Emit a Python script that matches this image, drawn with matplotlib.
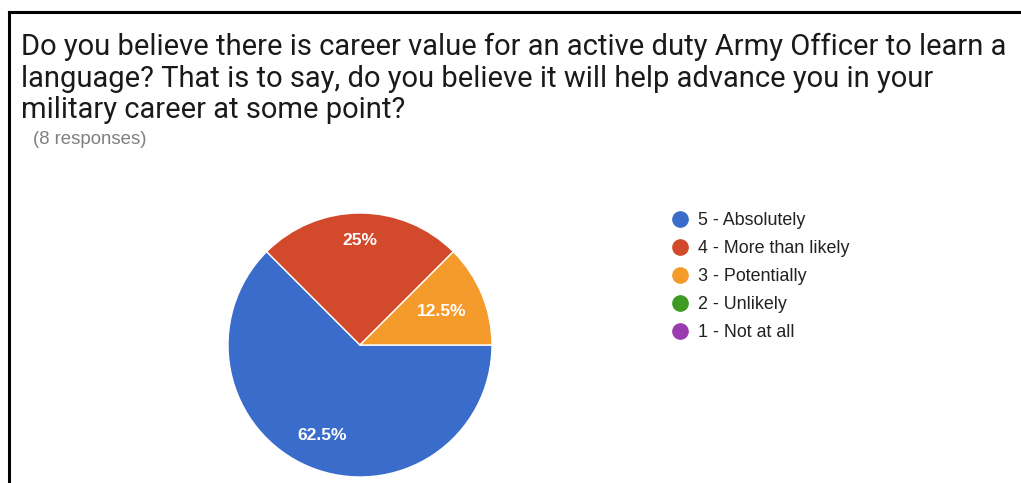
import matplotlib.pyplot as plt
from matplotlib.lines import Line2D
import numpy as np

# Survey answers (8 responses)
answers = ['5 - Absolutely', '4 - More than likely', '3 - Potentially',
           '2 - Unlikely', '1 - Not at all']
shares = [62.5, 25.0, 12.5, 0.0, 0.0]
colors = ['#3a6ccb', '#d3492b', '#f49b2c', '#3d9a22', '#9a3cb0']

question = ("Do you believe there is career value for an active duty Army Officer to learn a\n"
            "language? That is to say, do you believe it will help advance you in your\n"
            "military career at some point?")
n_responses = 8

W, H = 1021, 483
fig = plt.figure(figsize=(W / 100, H / 100), dpi=100)
fig.patch.set_facecolor('white')

# frame lines (left + top)
fig.add_artist(Line2D([8.5 / W, 8.5 / W], [0, 1 - 12 / H], color='black', lw=2.2))
fig.add_artist(Line2D([8.5 / W, 1], [1 - 12 / H, 1 - 12 / H], color='black', lw=2.2))

fig.text(21 / W, 1 - 33 / H, question, fontsize=21, family='Roboto',
         color='#1a1a1a', va='top', ha='left', linespacing=1.15)
fig.text(33 / W, 1 - 140 / H, f'({n_responses} responses)', fontsize=13.4,
         family='Liberation Sans', color='#808080', va='center', ha='left')

# pie: center (360, 345) px, radius 132 px
cx, cy, r = 360, 345, 132
ax = fig.add_axes([(cx - r) / W, (H - cy - r) / H, 2 * r / W, 2 * r / H])
vals = [v for v in shares if v > 0]
wedges, _ = ax.pie(vals, colors=colors[:len(vals)], startangle=0,
                   counterclock=False, radius=1,
                   wedgeprops=dict(edgecolor='white', linewidth=1.0))
ax.set_xlim(-1, 1)
ax.set_ylim(-1, 1)
ax.set_aspect('equal')
ax.axis('off')

label_dist = [0.74, 0.79, 0.67]
for w, v, d in zip(wedges, vals, label_dist):
    mid = np.deg2rad((w.theta1 + w.theta2) / 2)
    ax.text(d * np.cos(mid), d * np.sin(mid), f'{v:g}%', color='white',
            fontsize=12.5, fontweight='bold', family='Liberation Sans',
            ha='center', va='center')

handles = [Line2D([], [], marker='o', ls='', markersize=11,
                  markerfacecolor=c, markeredgecolor=c) for c in colors]
fig.legend(handles, answers, loc='upper left',
           bbox_to_anchor=(671 / W, 1 - 212 / H), frameon=False,
           prop=dict(family='Liberation Sans', size=12.9),
           labelcolor='#222222', labelspacing=0.62, handletextpad=0.5,
           handlelength=1.0, borderpad=0, borderaxespad=0)

fig.savefig('out.png', dpi=100)
